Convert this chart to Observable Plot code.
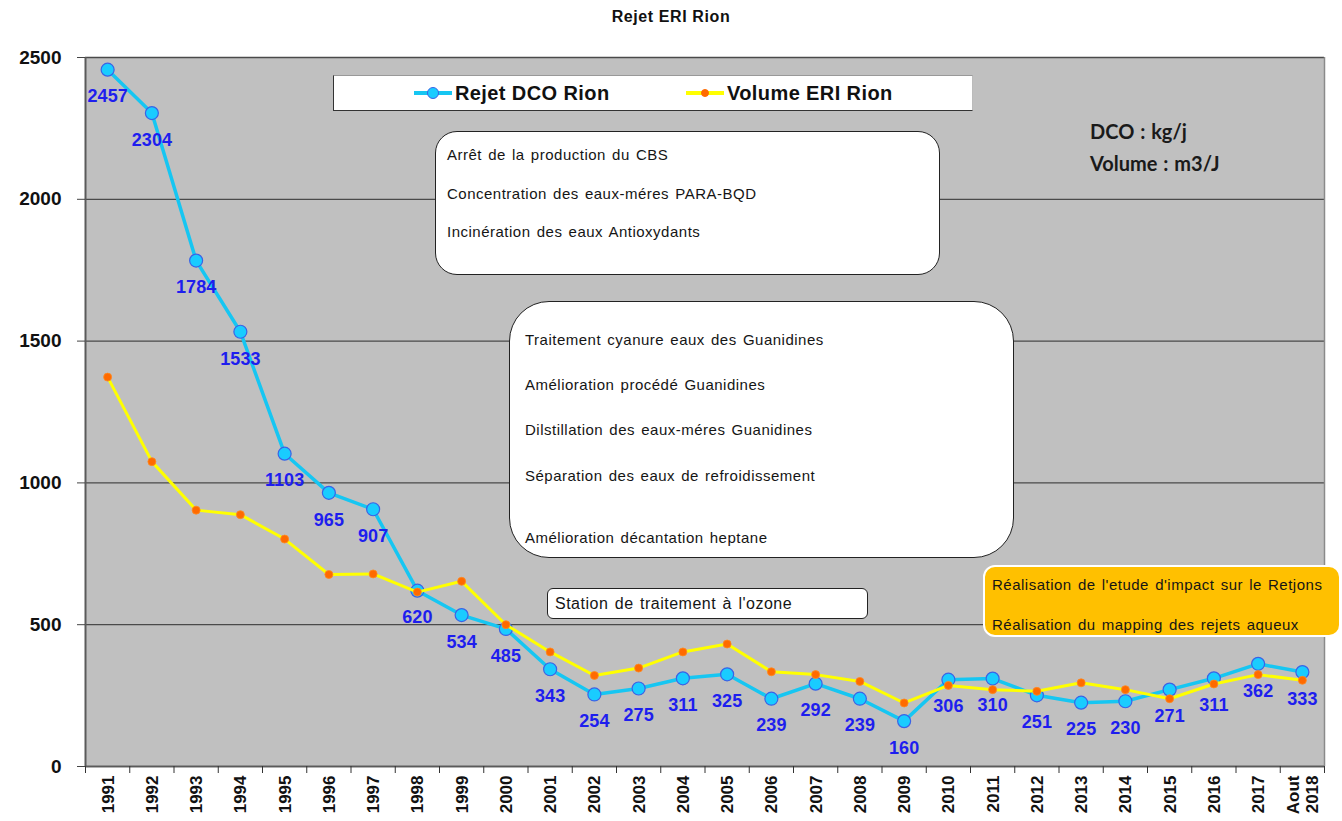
<!DOCTYPE html>
<html>
<head>
<meta charset="utf-8">
<script src="https://cdn.jsdelivr.net/npm/d3@7"></script>
<script src="https://cdn.jsdelivr.net/npm/@observablehq/plot@0.6"></script>
<style>
  body { margin: 0; background: #fff; font-family: "Liberation Sans", Arial, sans-serif; }
  #wrap { position: relative; width: 1342px; height: 821px; overflow: hidden; }
  #chart { position: absolute; left: 0; top: 0; }
  #title { position: absolute; left: 0; top: 8px; width: 1342px; text-align: center; font-weight: bold; font-size: 16px; letter-spacing: 0.6px; color: #111; }
  .box { position: absolute; box-sizing: border-box; background: #fff; border: 1.5px solid #222; font-size: 15px; letter-spacing: 0.5px; word-spacing: 1.5px; color: #151515; }
  .box span, .units span { position: absolute; white-space: nowrap; line-height: 1; transform: translateY(-50%); }
  .units { position: absolute; font-family: Lato, "Open Sans", sans-serif; font-weight: bold; font-size: 20px; color: #1a1a1a; word-spacing: 1px; }
  .legend { position: absolute; box-sizing: border-box; background: #fff; border: 1.5px solid #333; border-right-color: #bbb; border-top-color: #999; }
  .lg-line { position: absolute; height: 4px; }
  .lg-dot { position: absolute; border-radius: 50%; box-sizing: border-box; }
  .lg-text { position: absolute; font-weight: bold; font-size: 20px; letter-spacing: 0.4px; color: #111; white-space: nowrap; line-height: 1; transform: translateY(-50%); }
</style>
</head>
<body>
<div id="wrap">
  <div id="chart"></div>
  <div id="title"></div>
</div>
<script>
// ---- Data ----
const chartTitle = "Rejet ERI Rion";
const years = ["1991","1992","1993","1994","1995","1996","1997","1998","1999","2000",
  "2001","2002","2003","2004","2005","2006","2007","2008","2009","2010",
  "2011","2012","2013","2014","2015","2016","2017","Aout\n2018"];
const dcoValues = [2457,2304,1784,1533,1103,965,907,620,534,485,343,254,275,311,325,239,292,239,160,306,310,251,225,230,271,311,362,333];
const volumeValues = [1373,1075,904,888,802,677,679,615,653,500,404,321,347,404,432,334,324,300,224,286,271,265,295,271,239,291,324,304];
const yTicks = [0,500,1000,1500,2000,2500];
const seriesNames = ["Rejet DCO Rion","Volume ERI Rion"];
const box1Lines = ["Arrêt de la production du CBS","Concentration des eaux-méres PARA-BQD","Incinération des eaux Antioxydants"];
const box2Lines = ["Traitement cyanure eaux des Guanidines","Amélioration procédé Guanidines","Dilstillation des eaux-méres Guanidines","Séparation des eaux de refroidissement","Amélioration décantation heptane"];
const box3Lines = ["Station de traitement à l'ozone"];
const box4Lines = ["Réalisation de l'etude d'impact sur le Retjons","Réalisation du mapping des rejets aqueux"];
const unitLines = ["DCO : kg/j","Volume : m3/J"];

// ---- Colours ----
const blueLine = "#16C6F2", blueFill = "#19CCFF", blueStroke = "#3A62E6";
const yellowLine = "#FFFF00", orangeDot = "#FF6A00", labelBlue = "#1E1EEE";

const rows = years.map((label, i) => ({i, label, dco: dcoValues[i], volume: volumeValues[i]}));
const n = years.length;
const separators = d3.range(n + 1).map(k => k - 0.5);

const plot = Plot.plot({
  width: 1342,
  height: 821,
  marginTop: 57,
  marginBottom: 55,
  marginLeft: 85,
  marginRight: 18,
  style: {fontFamily: "'Liberation Sans', Arial, sans-serif", background: "transparent", overflow: "visible"},
  x: {type: "linear", domain: [-0.5, n - 0.5], axis: null},
  y: {domain: [0, 2500], axis: null},
  marks: [
    Plot.frame({fill: "#C0C0C0", stroke: "none"}),
    Plot.gridY(yTicks, {stroke: "#4a4a4a", strokeOpacity: 1, strokeWidth: 1.3}),
    Plot.ruleX([n - 0.5], {stroke: "#8a8a8a", strokeWidth: 1.5}),
    Plot.ruleX([-0.5], {stroke: "#5a5a5a", strokeWidth: 2}),
    Plot.ruleY([0], {stroke: "#5a5a5a", strokeWidth: 1.5}),
    Plot.axisY(yTicks, {tickSize: 8, tickPadding: 16, tickFormat: d => String(d), fontSize: 19, fontWeight: "bold", label: null, stroke: "#444", fill: "#111"}),
    Plot.axisX(separators, {tickSize: 7, tickFormat: () => "", label: null, stroke: "#333"}),
    Plot.axisX(d3.range(n), {tickSize: 0, tickPadding: 9, tickRotate: -90, textAnchor: "end", lineAnchor: "middle",
      tickFormat: i => years[i], fontSize: 17, fontWeight: "bold", label: null, fill: "#111", lineHeight: 1.1}),
    Plot.line(rows, {x: "i", y: "dco", stroke: blueLine, strokeWidth: 3.5}),
    Plot.dot(rows, {x: "i", y: "dco", r: 6.5, fill: blueFill, stroke: blueStroke, strokeWidth: 1.2}),
    Plot.line(rows, {x: "i", y: "volume", stroke: yellowLine, strokeWidth: 3}),
    Plot.dot(rows, {x: "i", y: "volume", r: 4, fill: orangeDot, stroke: "#FF8A20", strokeWidth: 0.8}),
    Plot.text(rows, {x: "i", y: "dco", text: d => String(d.dco), dy: 27, fill: labelBlue, fontSize: 18, fontWeight: "bold"})
  ]
});
document.getElementById("chart").appendChild(plot);
document.getElementById("title").textContent = chartTitle;

// ---- Annotation boxes (HTML overlay) ----
const wrap = document.getElementById("wrap");
function makeBox(lines, cfg) {
  const div = document.createElement("div");
  div.className = "box";
  Object.assign(div.style, {left: cfg.left + "px", top: cfg.top + "px", width: cfg.w + "px", height: cfg.h + "px",
    borderRadius: cfg.r + "px"});
  if (cfg.bg) div.style.background = cfg.bg;
  if (cfg.border) div.style.border = cfg.border;
  if (cfg.fs) div.style.fontSize = cfg.fs + "px";
  lines.forEach((t, k) => {
    const s = document.createElement("span");
    s.textContent = t;
    s.style.left = cfg.x + "px";
    s.style.top = cfg.ys[k] + "px";
    div.appendChild(s);
  });
  wrap.appendChild(div);
}
makeBox(box1Lines, {left: 435, top: 131, w: 505, h: 144, r: 22, x: 11, ys: [22, 61, 99]});
makeBox(box2Lines, {left: 509, top: 301, w: 505, h: 257, r: 40, x: 15, ys: [37, 82, 127, 173, 235]});
makeBox(box3Lines, {left: 547, top: 588, w: 321, h: 31, r: 6, x: 7, ys: [15], fs: 16});
makeBox(box4Lines, {left: 983, top: 565, w: 358, h: 72, r: 12, x: 7, ys: [17, 57], bg: "#FFC000", border: "2px solid #fff"});

// units text
const units = document.createElement("div");
units.className = "units";
Object.assign(units.style, {left: "1090px", top: "0px"});
unitLines.forEach((t, k) => {
  const s = document.createElement("span");
  s.textContent = t;
  s.style.left = "0px";
  s.style.top = [131, 163][k] + "px";
  units.appendChild(s);
});
wrap.appendChild(units);

// legend
const lg = document.createElement("div");
lg.className = "legend";
Object.assign(lg.style, {left: "333px", top: "75px", width: "640px", height: "36px"});
const legendItems = [
  {name: seriesNames[0], line: blueLine, dot: blueFill, dotStroke: blueStroke, r: 6, x: 80},
  {name: seriesNames[1], line: yellowLine, dot: orangeDot, dotStroke: orangeDot, r: 4, x: 352}
];
legendItems.forEach(it => {
  const ln = document.createElement("div");
  ln.className = "lg-line";
  Object.assign(ln.style, {left: it.x + "px", top: "15px", width: "38px", background: it.line});
  const dt = document.createElement("div");
  dt.className = "lg-dot";
  Object.assign(dt.style, {left: (it.x + 19 - it.r) + "px", top: (17 - it.r) + "px", width: 2 * it.r + "px", height: 2 * it.r + "px",
    background: it.dot, border: "1px solid " + it.dotStroke});
  const tx = document.createElement("div");
  tx.className = "lg-text";
  tx.textContent = it.name;
  Object.assign(tx.style, {left: (it.x + 41) + "px", top: "17px"});
  lg.append(ln, dt, tx);
});
wrap.appendChild(lg);
</script>
</body>
</html>
